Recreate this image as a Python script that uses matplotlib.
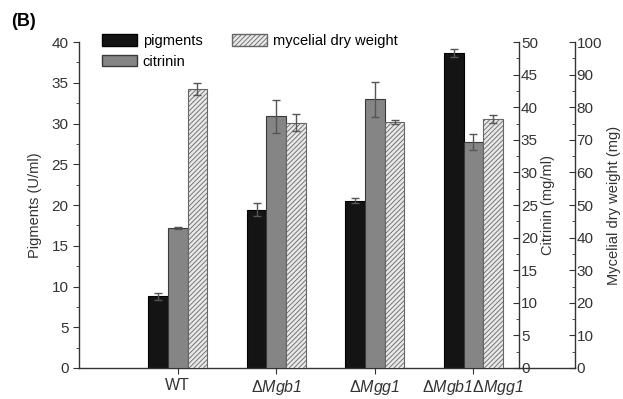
import numpy as np
import matplotlib
matplotlib.use('Agg')
from matplotlib import pyplot as plt
from matplotlib.ticker import MultipleLocator
from matplotlib.patches import Patch

plt.rcParams['font.family'] = ['Liberation Sans', 'DejaVu Sans']
# math text: italic letters and digits, upright Delta via \mathsf
plt.rcParams['mathtext.fontset'] = 'custom'
plt.rcParams['mathtext.rm'] = 'Liberation Sans:italic'
plt.rcParams['mathtext.it'] = 'Liberation Sans:italic'
plt.rcParams['mathtext.sf'] = 'Liberation Sans'
plt.rcParams['hatch.linewidth'] = 0.6
plt.rcParams['hatch.color'] = '#555555'

strains = ['WT', r'$\mathsf{\Delta}Mgb1$', r'$\mathsf{\Delta}Mgg1$', r'$\mathsf{\Delta}Mgb1\mathsf{\Delta}Mgg1$']
pigments = [8.8, 19.4, 20.5, 38.7]          # U/ml
pigments_err = [0.4, 0.8, 0.3, 0.5]
citrinin = [21.5, 38.6, 41.2, 34.7]         # mg/ml
citrinin_err = [0.2, 2.5, 2.7, 1.2]
mycelium = [85.5, 75.3, 75.4, 76.3]         # mg
mycelium_err = [1.9, 2.7, 0.6, 1.2]

x = np.arange(len(strains))
w = 0.2
errkw = dict(ecolor='#555555', elinewidth=1.0, capsize=3, capthick=1.0)

fig = plt.figure(figsize=(6.23, 3.99), dpi=100)
ax = fig.add_axes([0.127, 0.0777, 0.796, 0.817])
ax2 = ax.twinx()
ax3 = ax.twinx()

ax.bar(x - w, pigments, w, yerr=pigments_err, color='#141414', edgecolor='#000000',
       linewidth=0.8, error_kw=errkw)
ax2.bar(x, citrinin, w, yerr=citrinin_err, color='#858585', edgecolor='#3a3a3a',
        linewidth=0.8, error_kw=errkw)
ax3.bar(x + w, mycelium, w, yerr=mycelium_err, color='#e8e8e8', edgecolor='#666666',
        hatch='///////', linewidth=0.8, error_kw=errkw)

ax.set_xlim(-1.0, 4.03)
ax.set_ylim(0, 40)
ax2.set_ylim(0, 50)
ax3.set_ylim(0, 100)

ax.set_xticks(x)
ax.set_xticklabels(strains, fontsize=11.5)
ax.yaxis.set_major_locator(MultipleLocator(5))
ax.yaxis.set_minor_locator(MultipleLocator(2.5))
ax2.yaxis.set_major_locator(MultipleLocator(5))
ax2.yaxis.set_minor_locator(MultipleLocator(2.5))
ax3.yaxis.set_major_locator(MultipleLocator(10))
ax3.yaxis.set_minor_locator(MultipleLocator(5))

for a in (ax, ax2, ax3):
    for s in a.spines.values():
        s.set_visible(False)
        s.set_linewidth(1.0)
        s.set_color('#333333')
ax.spines['left'].set_visible(True)
ax.spines['bottom'].set_visible(True)
ax2.spines['right'].set_visible(True)
ax2.spines['right'].set_position(('axes', 0.888))
ax3.spines['right'].set_visible(True)

ax.tick_params(axis='y', which='major', direction='out', length=4, labelsize=11, colors='#333333')
ax.tick_params(axis='y', which='minor', direction='out', length=2, colors='#333333')
ax.tick_params(axis='x', direction='out', length=4, labelsize=11.5, colors='#333333')
for a in (ax2, ax3):
    a.tick_params(axis='y', which='major', direction='in', length=4, pad=1, labelsize=11, colors='#333333')
    a.tick_params(axis='y', which='minor', direction='in', length=2, colors='#333333')

ax.set_ylabel('Pigments (U/ml)', fontsize=10.5, color='#333333')
ax2.set_ylabel('Citrinin (mg/ml)', fontsize=10.5, color='#333333')
ax3.set_ylabel('Mycelial dry weight (mg)', fontsize=10.5, color='#333333')
ax.yaxis.set_label_coords(-0.075, 0.5)
ax2.yaxis.set_label_coords(0.931, 0.5)
ax3.yaxis.set_label_coords(1.064, 0.5)

handles = [Patch(facecolor='#141414', edgecolor='#000000', label='pigments'),
           Patch(facecolor='#858585', edgecolor='#3a3a3a', label='citrinin'),
           Patch(facecolor='#e8e8e8', edgecolor='#666666', hatch='///////', label='mycelial dry weight')]
ax3.legend(handles=handles, ncol=2, loc='upper left', bbox_to_anchor=(0.152, 0.933),
           bbox_transform=fig.transFigure, frameon=False, fontsize=10.5,
           handlelength=2.4, handleheight=0.85, handletextpad=0.4, columnspacing=2.05,
           labelspacing=0.45, borderpad=0)

fig.text(0.018, 0.945, '(B)', fontsize=13, fontweight='bold', va='center')

fig.savefig('out.png', dpi=100)
